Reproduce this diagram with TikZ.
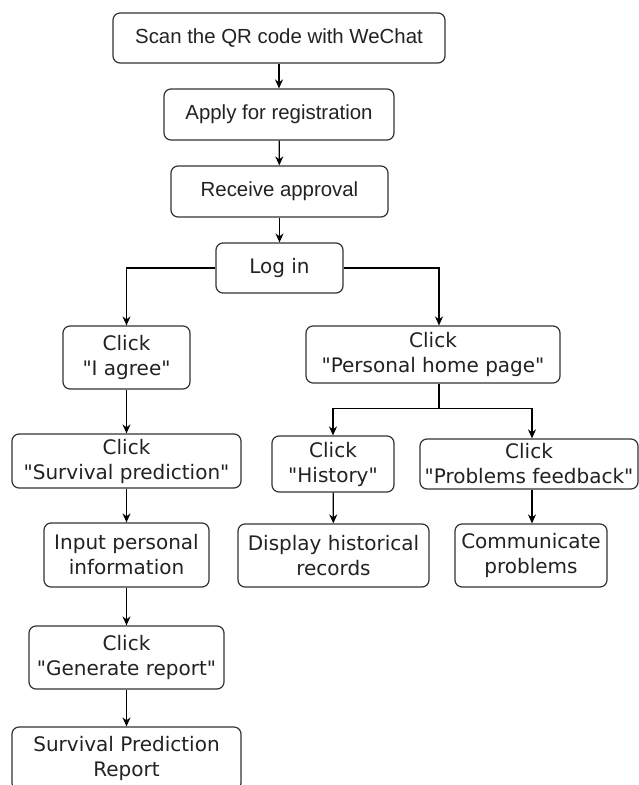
\documentclass[tikz,border=0pt]{standalone}
\usepackage{fontspec}
\usetikzlibrary{arrows.meta}
\newfontfamily\arialf{Liberation Sans}
\newfontfamily\tahf{DejaVu Sans}
\definecolor{edge}{HTML}{333333}
\definecolor{txt}{HTML}{222222}
\tikzset{
  box/.style={draw=edge, line width=1.2pt, rounded corners=7pt, inner sep=0pt,
    align=center, text=txt, anchor=center},
  topbox/.style={box, font=\arialf\fontsize{20.4}{24}\selectfont},
  lowbox/.style={box, font=\tahf\fontsize{20}{25}\selectfont},
  arr/.style={draw=black, line width=1.2pt, -{Stealth[length=9pt,width=8pt]}},
  ln/.style={draw=black, line width=1.2pt}
}
\begin{document}
\begin{tikzpicture}[x=1pt,y=1pt]
\useasboundingbox (0,0) rectangle (639,-785);
\fill[white] (0,0) rectangle (639,-785);
\node[topbox, minimum width=332pt, minimum height=50pt] (scan) at (279,-38) {Scan the QR code with WeChat};
\node[topbox, minimum width=230pt, minimum height=51pt] (apply) at (279,-114.5) {Apply for registration};
\node[topbox, minimum width=217pt, minimum height=51pt] (recv) at (279.5,-191.5) {Receive approval};
\node[lowbox, minimum width=127pt, minimum height=50pt] (login) at (279.5,-268) {Log in};
\node[lowbox, minimum width=127pt, minimum height=63pt] (agree) at (126.5,-357.5) {Click\\"I agree"};
\node[lowbox, minimum width=254pt, minimum height=57pt] (personal) at (433,-354.5) {Click\\"Personal home page"};
\node[lowbox, minimum width=229pt, minimum height=54pt] (survpred) at (126.5,-461) {Click\\"Survival prediction"};
\node[lowbox, minimum width=165pt, minimum height=64pt] (input) at (126.5,-555) {Input personal\\information};
\node[lowbox, minimum width=195pt, minimum height=63pt] (generate) at (126.5,-657.5) {Click\\"Generate report"};
\node[lowbox, minimum width=229pt, minimum height=63pt] (report) at (126.5,-758.5) {Survival Prediction\\Report};
\node[lowbox, minimum width=122pt, minimum height=56pt] (history) at (333,-464) {Click\\"History"};
\node[lowbox, minimum width=218pt, minimum height=50pt] (problems) at (529,-464) {Click\\"Problems feedback"};
\node[lowbox, minimum width=191pt, minimum height=63pt] (display) at (333.5,-555.5) {Display historical\\records};
\node[lowbox, minimum width=152pt, minimum height=63pt] (comm) at (531,-555.5) {Communicate\\problems};
\draw[arr] (scan) -- (apply);
\draw[arr] (apply) -- (recv);
\draw[arr] (recv.south) -- (login.north -| recv.south);
\draw[arr] (login.west) -| (agree.north);
\draw[arr] (login.east) -| ([xshift=6pt]personal.north);
\draw[arr] (agree) -- (survpred);
\draw[arr] (survpred) -- (input);
\draw[arr] (input) -- (generate);
\draw[arr] (generate) -- (report);
\coordinate (bar) at ([xshift=6pt,yshift=-25pt]personal.south);
\draw[ln] ([xshift=6pt]personal.south) -- (bar);
\draw[arr] (bar) -| (history.north);
\draw[arr] (bar) -| ([xshift=3pt]problems.north);
\draw[arr] (history) -- (display);
\draw[arr] ([xshift=3pt]problems.south) -- ([xshift=3pt]problems.south |- comm.north);
\end{tikzpicture}
\end{document}
